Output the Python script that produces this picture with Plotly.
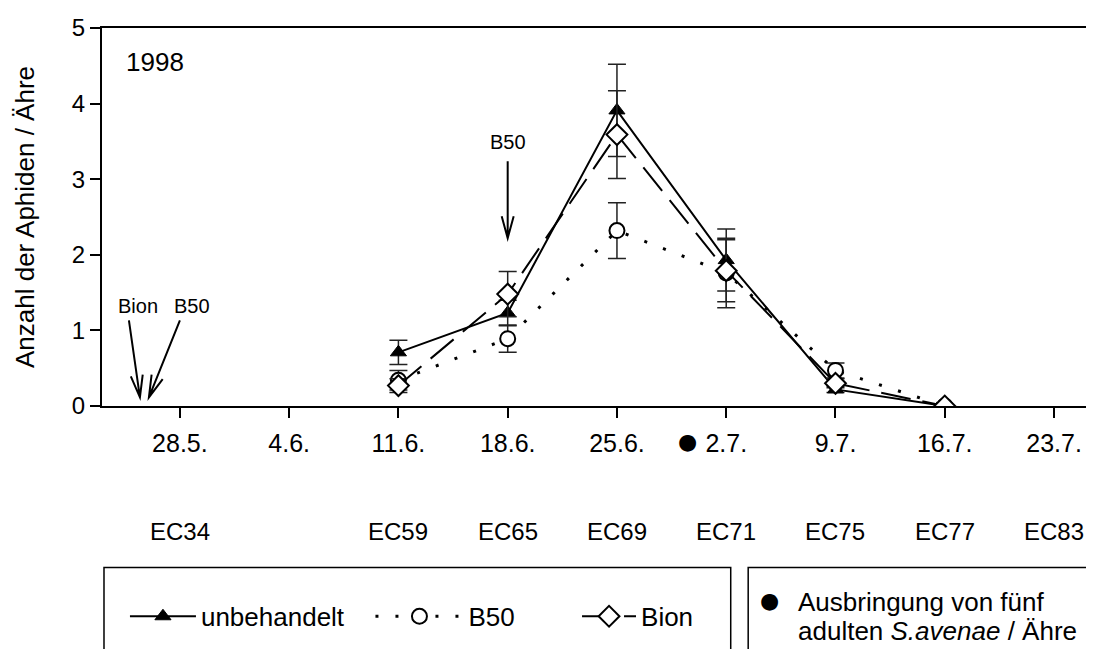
import math
import plotly.graph_objects as go

# ---- data ----
dates = ['1998-06-11', '1998-06-18', '1998-06-25', '1998-07-02', '1998-07-09', '1998-07-16']
unbehandelt = [0.71, 1.23, 3.91, 1.93, 0.22, 0.0]
unbehandelt_err = [0.16, 0.17, 0.61, 0.41, 0.04, 0.0]
b50 = [0.34, 0.89, 2.32, 1.76, 0.47, 0.0]
b50_err = [0.13, 0.18, 0.37, 0.46, 0.10, 0.0]
bion = [0.27, 1.48, 3.59, 1.79, 0.30, 0.0]
bion_err = [0.09, 0.30, 0.58, 0.41, 0.06, 0.0]

tick_dates = ['1998-05-28', '1998-06-04', '1998-06-11', '1998-06-18', '1998-06-25',
              '1998-07-02', '1998-07-09', '1998-07-16', '1998-07-23']
tick_labels = ['28.5.', '4.6.', '11.6.', '18.6.', '25.6.', '2.7.', '9.7.', '16.7.', '23.7.']
ec_dates = ['1998-05-28', '1998-06-11', '1998-06-18', '1998-06-25', '1998-07-02',
            '1998-07-09', '1998-07-16', '1998-07-23']
ec_labels = ['EC34', 'EC59', 'EC65', 'EC69', 'EC71', 'EC75', 'EC77', 'EC83']
release_date = '1998-07-02'
spray_b50_date = '1998-06-18'

FONT = 'Liberation Sans, Arial, sans-serif'
err_style = dict(type='data', thickness=1.5, width=9, color='#222222')

# page body has an 8px margin -> figure shifted by 8px; compensate
OFF = 8
W, H = 1094 - OFF, 649 - OFF
PL, PR, PT, PB = 102, 1088, 26, 405.7  # plot area in screen pixels
PW, PH = PR - PL, PB - PT


def px(x):
    return (x - PL) / PW


def py(y):
    return (PB - y) / PH


fig = go.Figure()
fig.add_trace(go.Scatter(
    x=dates, y=unbehandelt, name='unbehandelt', mode='lines+markers', legend='legend',
    line=dict(color='black', width=2),
    marker=dict(symbol='triangle-up', size=14, color='black', line=dict(color='black', width=1)),
    error_y=dict(array=unbehandelt_err, **err_style)))
fig.add_trace(go.Scatter(
    x=dates, y=b50, name='B50', mode='lines+markers', legend='legend2',
    line=dict(color='black', width=3, dash='3px,17px'),
    marker=dict(symbol='circle', size=15, color='white', line=dict(color='black', width=2)),
    error_y=dict(array=b50_err, **err_style)))
fig.add_trace(go.Scatter(
    x=dates, y=bion, name='Bion', mode='lines+markers', legend='legend3',
    line=dict(color='black', width=2, dash='30px,12px'),
    marker=dict(symbol='diamond', size=16, color='white', line=dict(color='black', width=2)),
    error_y=dict(array=bion_err, **err_style)))


def arrow_path(dx, dy, head_len=22, half_w=6):
    # head at (0,0); tail at (dx,dy) in pixels (y up)
    L = math.hypot(dx, dy)
    ux, uy = dx / L, dy / L
    nx, ny = -uy, ux
    bx, by = ux * head_len, uy * head_len
    w1 = (bx + nx * half_w, by + ny * half_w)
    w2 = (bx - nx * half_w, by - ny * half_w)
    return (f'M0,0 L{dx:.1f},{dy:.1f} M{w1[0]:.1f},{w1[1]:.1f} L0,0 '
            f'L{w2[0]:.1f},{w2[1]:.1f}')


shapes = [
    # legend boxes
    dict(type='rect', xref='paper', yref='paper', x0=px(104), x1=px(732),
         y0=py(568), y1=py(680), line=dict(color='black', width=1.5)),
    dict(type='rect', xref='paper', yref='paper', x0=px(749.5), x1=px(1110),
         y0=py(568), y1=py(680), line=dict(color='black', width=1.5)),
    # B50 spraying arrow at 18.6.
    dict(type='path', xref='x', yref='y', xsizemode='pixel', ysizemode='pixel',
         xanchor=spray_b50_date, yanchor=2.22, path=arrow_path(0, 77),
         line=dict(color='black', width=2)),
    # early Bion / B50 arrows
    dict(type='path', xref='paper', yref='paper', xsizemode='pixel', ysizemode='pixel',
         xanchor=px(140), yanchor=py(397), path=arrow_path(-11, 77),
         line=dict(color='black', width=2)),
    dict(type='path', xref='paper', yref='paper', xsizemode='pixel', ysizemode='pixel',
         xanchor=px(149), yanchor=py(397), path=arrow_path(31, 77),
         line=dict(color='black', width=2)),
]

annotations = []
annotations.append(dict(text='1998', xref='paper', yref='paper', x=px(124), y=py(60),
                        xanchor='left', yanchor='middle', showarrow=False,
                        font=dict(size=26, family=FONT, color='black')))
annotations.append(dict(text='B50', xref='x', yref='paper', x=spray_b50_date, y=py(141),
                        xanchor='center', yanchor='middle', showarrow=False,
                        font=dict(size=20, family=FONT, color='black')))
annotations.append(dict(text='Bion', xref='paper', yref='paper', x=px(138.5), y=py(305),
                        xanchor='center', yanchor='middle', showarrow=False,
                        font=dict(size=20, family=FONT, color='black')))
annotations.append(dict(text='B50', xref='paper', yref='paper', x=px(192), y=py(305),
                        xanchor='center', yanchor='middle', showarrow=False,
                        font=dict(size=20, family=FONT, color='black')))
# release marker before 2.7.
annotations.append(dict(text='●', xref='x', yref='paper', x=release_date, y=py(441),
                        xshift=-39, xanchor='center', yanchor='middle', showarrow=False,
                        font=dict(size=22, family='DejaVu Sans', color='black')))
# EC labels
for d, lab in zip(ec_dates, ec_labels):
    annotations.append(dict(text=lab, xref='x', yref='paper', x=d, y=py(532),
                            xanchor='center', yanchor='middle', showarrow=False,
                            font=dict(size=24, family=FONT, color='black')))
# second legend box
annotations.append(dict(text='●', xref='paper', yref='paper', x=px(770.6), y=py(601),
                        xanchor='center', yanchor='middle', showarrow=False,
                        font=dict(size=22, family='DejaVu Sans', color='black')))
annotations.append(dict(text='Ausbringung von fünf', xref='paper', yref='paper',
                        x=px(797), y=py(603), xanchor='left', yanchor='middle',
                        showarrow=False, font=dict(size=26, family=FONT, color='black')))
annotations.append(dict(text='adulten <i>S.avenae</i> / Ähre', xref='paper', yref='paper',
                        x=px(797), y=py(632), xanchor='left', yanchor='middle',
                        showarrow=False, font=dict(size=26, family=FONT, color='black')))

leg_common = dict(orientation='h', yanchor='middle', xanchor='left', y=py(617),
                  font=dict(size=26, family=FONT, color='black'),
                  bgcolor='rgba(0,0,0,0)', borderwidth=0)

fig.update_layout(
    width=W, height=H,
    margin=dict(l=PL - OFF, r=W - (PR - OFF), t=PT - OFF, b=H - (PB - OFF)),
    paper_bgcolor='white', plot_bgcolor='white',
    font=dict(family=FONT, color='black', size=22),
    annotations=annotations, shapes=shapes,
    showlegend=True,
    legend=dict(x=px(130 - 5), itemwidth=66, **leg_common),
    legend2=dict(x=px(376 - 5), itemwidth=88, **leg_common),
    legend3=dict(x=px(583 - 5), itemwidth=54, **leg_common),
)
fig.update_xaxes(
    type='date', range=['1998-05-23 00:15', '1998-07-25 01:10'],
    tickmode='array', tickvals=tick_dates, ticktext=tick_labels,
    ticks='outside', ticklen=10, tickwidth=2, tickcolor='black', ticklabelstandoff=4,
    showline=True, linewidth=2, linecolor='black', mirror=True,
    showgrid=False, zeroline=False, tickfont=dict(size=25, family=FONT),
)
fig.update_yaxes(
    range=[0, 5], tickvals=[0, 1, 2, 3, 4, 5],
    ticks='outside', ticklen=10, tickwidth=2, tickcolor='black',
    showline=True, linewidth=2, linecolor='black', mirror=True,
    showgrid=False, zeroline=False, tickfont=dict(size=24, family=FONT),
    title=dict(text='Anzahl der Aphiden / Ähre', font=dict(size=26, family=FONT), standoff=30),
)
fig.write_html('out.html')
